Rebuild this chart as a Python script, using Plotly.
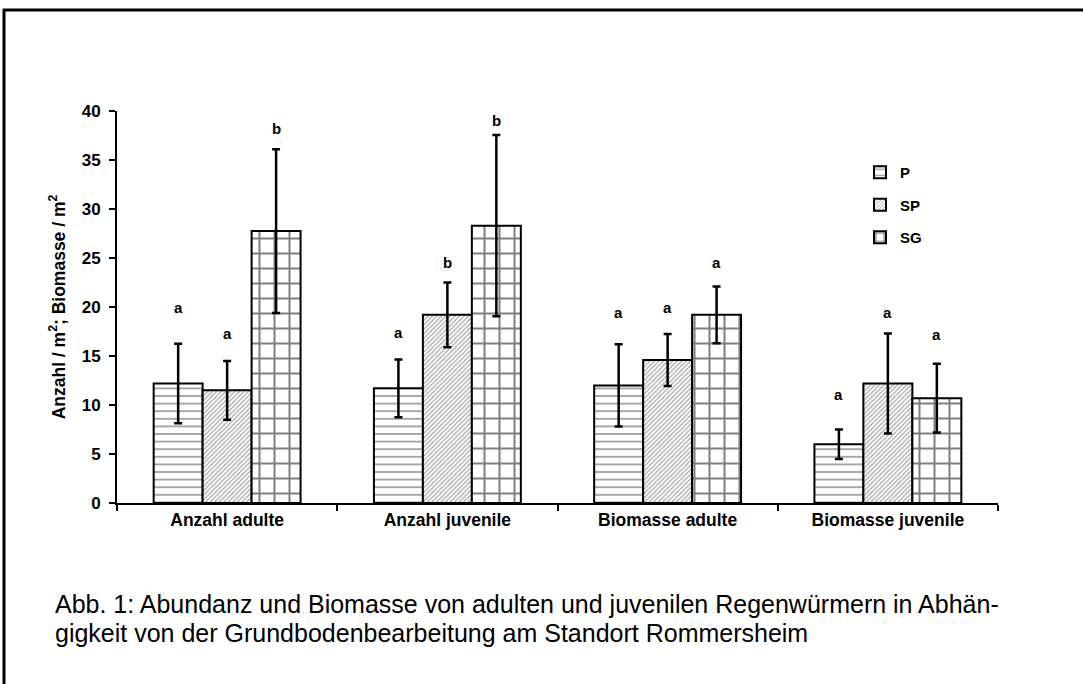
import plotly.graph_objects as go

categories = ["Anzahl adulte", "Anzahl juvenile", "Biomasse adulte", "Biomasse juvenile"]
series_names = ["P", "SP", "SG"]

P_vals = [12.2, 11.7, 12.0, 6.0]
SP_vals = [11.5, 19.2, 14.6, 12.2]
SG_vals = [27.75, 28.3, 19.2, 10.7]

P_err = [4.05, 2.95, 4.2, 1.5]
SP_err = [3.0, 3.3, 2.65, 5.1]
SG_err = [8.35, 9.25, 2.9, 3.5]

P_letters = ["a", "a", "a", "a"]
SP_letters = ["a", "b", "a", "a"]
SG_letters = ["b", "b", "a", "a"]

P_letter_y = [20.0, 17.4, 19.4, 11.1]
SP_letter_y = [17.3, 24.5, 19.9, 19.4]
SG_letter_y = [38.2, 39.0, 24.5, 17.2]

y_ticks = [0, 5, 10, 15, 20, 25, 30, 35, 40]

caption_line1 = "Abb. 1: Abundanz und Biomasse von adulten und juvenilen Regenwürmern in Abhän-"
caption_line2 = "gigkeit von der Grundbodenbearbeitung am Standort Rommersheim"

FONT = "Liberation Sans, Arial, sans-serif"
W, H = 1083, 684
ML, MR, MT, MB = 117, 85, 111, 181
PW = W - ML - MR
PH = H - MT - MB


def px_x(px):
    return (px - ML) / PW


def px_y(py):
    return (MT + PH - py) / PH


patterns = [
    dict(shape="-", size=7.6, solidity=0.22, fgcolor="#333333", bgcolor="white"),
    dict(shape="/", size=3.2, solidity=0.35, fgcolor="#3a3a3a", bgcolor="white"),
    dict(shape="+", size=15, solidity=0.25, fgcolor="black", bgcolor="white"),
]
vals = [P_vals, SP_vals, SG_vals]
errs = [P_err, SP_err, SG_err]
letters = [P_letters, SP_letters, SG_letters]
letter_ys = [P_letter_y, SP_letter_y, SG_letter_y]

fig = go.Figure()
for i, name in enumerate(series_names):
    fig.add_trace(go.Bar(
        x=categories, y=vals[i], name=name,
        marker=dict(color="white", line=dict(color="black", width=2), pattern=patterns[i]),
        error_y=dict(type="data", array=errs[i], color="black", thickness=2.5, width=4),
        legendgroup=name,
    ))

bargap = 0.333
bw = (1 - bargap) / 3
annotations = []
for i in range(3):
    off = (i - 1) * bw
    for j in range(len(categories)):
        annotations.append(dict(
            x=j + off, y=letter_ys[i][j], xref="x", yref="y", text=letters[i][j],
            showarrow=False, font=dict(family=FONT, size=15, color="black", weight="bold"),
            xanchor="center", yanchor="middle"))

annotations.append(dict(
    x=px_x(53), y=px_y(604), xref="paper", yref="paper",
    text=caption_line1, showarrow=False, xanchor="left", yanchor="middle",
    font=dict(family=FONT, size=25, color="black")))
annotations.append(dict(
    x=px_x(53), y=px_y(633), xref="paper", yref="paper",
    text=caption_line2, showarrow=False, xanchor="left", yanchor="middle",
    font=dict(family=FONT, size=25, color="black")))

shapes = [
    dict(type="line", xref="paper", yref="paper",
         x0=px_x(3), x1=px_x(W + 5), y0=px_y(10), y1=px_y(10),
         line=dict(color="black", width=3)),
    dict(type="line", xref="paper", yref="paper",
         x0=px_x(4), x1=px_x(4), y0=px_y(9), y1=px_y(H + 5),
         line=dict(color="black", width=3)),
]

fig.update_layout(
    width=W, height=H,
    margin=dict(l=ML, r=MR, t=MT, b=MB, pad=0),
    paper_bgcolor="white", plot_bgcolor="white",
    barmode="group", bargap=bargap, bargroupgap=0,
    font=dict(family=FONT, color="black"),
    showlegend=True,
    legend=dict(x=px_x(860), y=px_y(156), xanchor="left", yanchor="top",
                font=dict(family=FONT, size=15, color="black", weight="bold"),
                bgcolor="rgba(0,0,0,0)", tracegroupgap=10, traceorder="grouped",
                itemwidth=30),
    annotations=annotations,
    shapes=shapes,
)
fig.update_xaxes(
    showline=True, linecolor="black", linewidth=2, ticks="outside", ticklen=6,
    tickwidth=2, tickcolor="black", tickson="boundaries", showgrid=False,
    tickfont=dict(family=FONT, size=17.5, color="black", weight="bold"),
    range=[-0.5, 3.5],
)
fig.update_yaxes(
    range=[0, 40], tickvals=y_ticks, showline=True, linecolor="black", linewidth=2,
    ticks="outside", ticklen=6, tickwidth=2, tickcolor="black", showgrid=False,
    zeroline=False, ticklabelstandoff=5,
    tickfont=dict(family=FONT, size=17, color="black", weight="bold"),
    title=dict(text="Anzahl / m<sup>2</sup>; Biomasse / m<sup>2</sup>",
               font=dict(family=FONT, size=17.5, color="black", weight="bold"), standoff=12),
)

fig.write_html("out.html", config={"displayModeBar": False},
               post_script="document.body.style.margin='0px';")
